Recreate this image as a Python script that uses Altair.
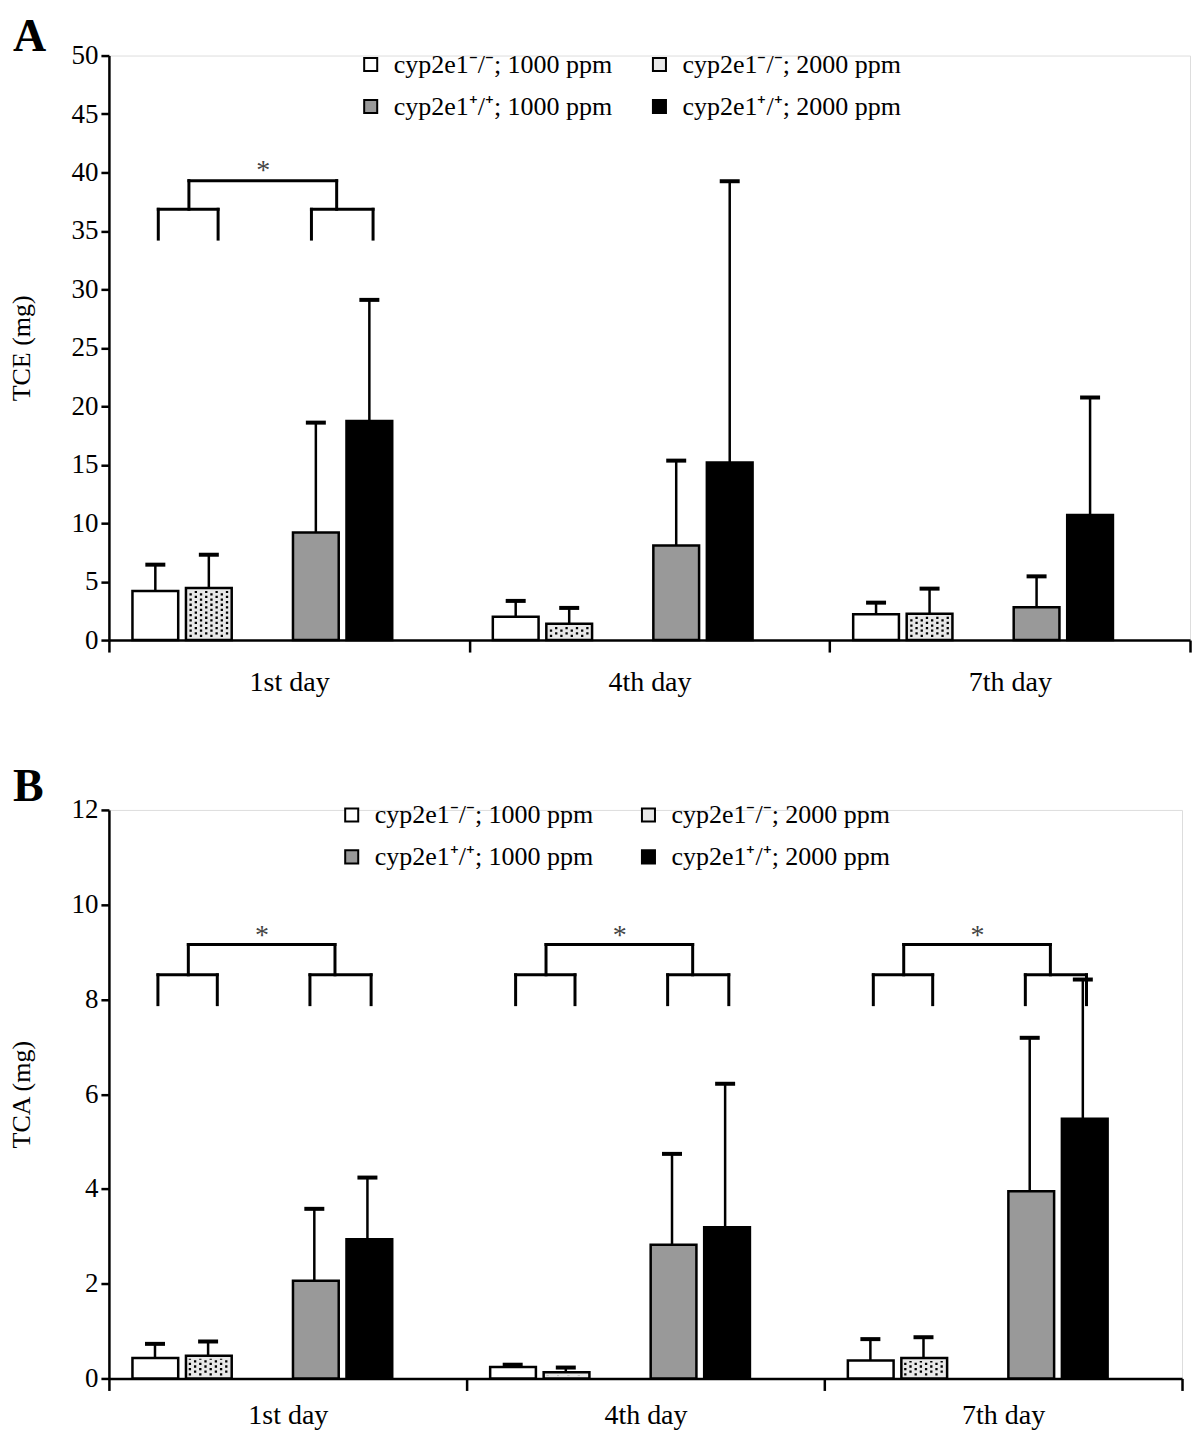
import altair as alt
import pandas as pd

FONT = "Liberation Serif"

# ---------------- data ----------------
days = ["1st day", "4th day", "7th day"]
series = [
    "cyp2e1\u207b/\u207b; 1000 ppm",
    "cyp2e1\u207b/\u207b; 2000 ppm",
    "cyp2e1\u207a/\u207a; 1000 ppm",
    "cyp2e1\u207a/\u207a; 2000 ppm",
]

# Panel A: TCE (mg), mean and SD per day
tce_ko1000 = [4.2, 2.0, 2.2]
tce_ko2000 = [4.45, 1.4, 2.25]
tce_wt1000 = [9.2, 8.1, 2.8]
tce_wt2000 = [18.75, 15.2, 10.7]
tce_ko1000_sd = [2.25, 1.35, 1.0]
tce_ko2000_sd = [2.85, 1.35, 2.15]
tce_wt1000_sd = [9.4, 7.25, 2.65]
tce_wt2000_sd = [10.35, 24.05, 10.05]

# Panel B: TCA (mg), mean and SD per day
tca_ko1000 = [0.43, 0.24, 0.38]
tca_ko2000 = [0.48, 0.13, 0.43]
tca_wt1000 = [2.06, 2.82, 3.95]
tca_wt2000 = [2.94, 3.19, 5.48]
tca_ko1000_sd = [0.30, 0.05, 0.45]
tca_ko2000_sd = [0.30, 0.10, 0.44]
tca_wt1000_sd = [1.52, 1.92, 3.24]
tca_wt2000_sd = [1.30, 3.03, 2.94]

# significance brackets: which days, and levels (bottom, sub top, top, asterisk)
tce_sig_days = ["1st day"]
tce_sig_levels = [34.3, 36.85, 39.3, 40.4]
tca_sig_days = ["1st day", "4th day", "7th day"]
tca_sig_levels = [7.89, 8.52, 9.16, 9.40]

# ---------------- layout / style ----------------
slot_domain = [series[0], series[1], "gap_a", series[2], series[3], "gap_b"]
fill_of = {series[0]: "white", series[1]: "#e8e8e8",
           series[2]: "#999999", series[3]: "black"}
legend_order = [series[0], series[2], series[1], series[3]]  # column-major fill -> row-major look
PAD_IN, PAD_OUT = 0.145, 0.44
STEP = 1.0 / (len(slot_domain) - PAD_IN + 2 * PAD_OUT)
BAND = STEP * (1 - PAD_IN)


def slot_center(s):
    k = slot_domain.index(s)
    return PAD_OUT * STEP + k * STEP + BAND / 2


# bracket x fractions inside a day band
BR_L1, BR_L2, BR_R1, BR_R2 = 0.137, 0.303, 0.562, 0.733
BR_T1, BR_T2, BR_AST = 0.222, 0.632, 0.428


def build_panel(means, sds, ytitle, ymax, ystep, width, height, letter,
                sig_days, sig_levels, legend_x, legend_y, col_pad, xlab_pad,
                title_offset):
    upx = 3.0 / width          # x data units per pixel
    ypx = ymax / height        # y data units per pixel
    rows = []
    for si, s in enumerate(series):
        for di, d in enumerate(days):
            m = means[si][di]
            sd = sds[si][di]
            xc = di + slot_center(s)
            rows.append(dict(day=d, series=s, mean=m, top=m + sd, xc=xc,
                             xl=xc - 10 * upx, xr=xc + 10 * upx))
    df = pd.DataFrame(rows)

    # dot texture for the dotted series
    dots = []
    for di, d in enumerate(days):
        s = series[1]
        m = means[1][di]
        xc = di + slot_center(s)
        y0 = 3.0 * ypx
        y1 = m - 3.0 * ypx
        if y1 <= y0:
            y1 = y0 + 2.4 * ypx
        for k in range(8):
            dots.append(dict(x=xc + (k - 3.5) * 5.2 * upx, y0=y0, y1=y1,
                             parity=k % 2))
    ddf = pd.DataFrame(dots)

    # brackets
    bot, sub, top, ast = sig_levels
    segs, asts = [], []
    for d in sig_days:
        i = days.index(d)
        for (xa, ya, xb, yb) in [
            (BR_L1, bot, BR_L1, sub), (BR_L1, sub, BR_L2, sub), (BR_L2, sub, BR_L2, bot),
            (BR_R1, bot, BR_R1, sub), (BR_R1, sub, BR_R2, sub), (BR_R2, sub, BR_R2, bot),
            (BR_T1, sub, BR_T1, top), (BR_T1, top, BR_T2, top), (BR_T2, top, BR_T2, sub),
        ]:
            segs.append(dict(x=i + xa, y=ya, x2=i + xb, y2=yb))
        asts.append(dict(x=i + BR_AST, y=ast, label="*"))
    sdf = pd.DataFrame(segs)
    adf = pd.DataFrame(asts)

    yscale = alt.Scale(domain=[0, ymax], nice=False, zero=True)
    yaxis = alt.Axis(
        title=ytitle, values=list(range(0, ymax + 1, ystep)), grid=False,
        domainColor="black", domainWidth=2.5, tickColor="black", tickWidth=2.5,
        tickSize=8, labelFont=FONT, labelFontSize=27, labelColor="black",
        labelPadding=3, titleFont=FONT, titleFontSize=26, titleFontWeight="normal",
        titleColor="black", titlePadding=36,
    )
    xq_scale = alt.Scale(domain=[0, 3], nice=False, zero=False)

    def Y(field):
        return alt.Y(field, scale=yscale, axis=yaxis)

    def XQ(field):
        return alt.X(field, scale=xq_scale, axis=None)

    bars = alt.Chart(df).mark_bar(stroke="black", strokeWidth=2.5).encode(
        x=alt.X("day:N", sort=days,
                scale=alt.Scale(paddingInner=0, paddingOuter=0),
                axis=alt.Axis(title=None, labelAngle=0, tickBand="extent",
                              domainColor="black", domainWidth=2.5,
                              tickColor="black", tickWidth=2.5, tickSize=12,
                              labelFont=FONT, labelFontSize=28,
                              labelColor="black", labelPadding=xlab_pad)),
        xOffset=alt.XOffset("series:N",
                            scale=alt.Scale(domain=slot_domain,
                                            paddingInner=PAD_IN,
                                            paddingOuter=PAD_OUT)),
        y=Y("mean:Q"),
        fill=alt.Fill("series:N",
                      scale=alt.Scale(domain=legend_order,
                                      range=[fill_of[s] for s in legend_order]),
                      legend=alt.Legend(
                          title=None, orient="none", legendX=legend_x,
                          legendY=legend_y, columns=2, symbolType="square",
                          symbolSize=170, symbolStrokeColor="black",
                          symbolStrokeWidth=2, labelFont=FONT,
                          labelFontSize=26, labelColor="black",
                          labelOffset=10, labelLimit=500,
                          columnPadding=col_pad, rowPadding=16, padding=0)),
    )

    dots_even = alt.Chart(ddf).transform_filter("datum.parity == 0").mark_rule(
        color="black", strokeWidth=2.3, strokeDash=[2.3, 2.9], strokeCap="butt"
    ).encode(x=XQ("x:Q"), y=Y("y0:Q"), y2="y1:Q")
    dots_odd = alt.Chart(ddf).transform_filter("datum.parity == 1").mark_rule(
        color="black", strokeWidth=2.3, strokeDash=[2.3, 2.9], strokeDashOffset=2.6,
        strokeCap="butt"
    ).encode(x=XQ("x:Q"), y=Y("y0:Q"), y2="y1:Q")

    whisk = alt.Chart(df).mark_rule(color="black", strokeWidth=2.5).encode(
        x=XQ("xc:Q"), y=Y("mean:Q"), y2="top:Q")
    caps = alt.Chart(df).mark_rule(color="black", strokeWidth=4).encode(
        x=XQ("xl:Q"), x2="xr:Q", y=Y("top:Q"))

    brackets = alt.Chart(sdf).mark_rule(color="black", strokeWidth=3,
                                        strokeCap="square").encode(
        x=XQ("x:Q"), x2="x2:Q", y=Y("y:Q"), y2="y2:Q")
    stars = alt.Chart(adf).mark_text(font=FONT, fontSize=28, color="#444444",
                                     baseline="middle", dy=3).encode(
        x=XQ("x:Q"), y=Y("y:Q"), text="label:N")

    return alt.layer(bars, dots_even, dots_odd, whisk, caps, brackets, stars).resolve_scale(
        x="independent"
    ).properties(
        width=width, height=height,
        title=alt.TitleParams(text=letter, anchor="start", frame="group", dx=-96,
                              fontSize=46, fontWeight="bold", font=FONT,
                              color="black", offset=title_offset),
    )


panel_a = build_panel(
    [tce_ko1000, tce_ko2000, tce_wt1000, tce_wt2000],
    [tce_ko1000_sd, tce_ko2000_sd, tce_wt1000_sd, tce_wt2000_sd],
    "TCE (mg)", 50, 5, 1082, 585, "A", tce_sig_days, tce_sig_levels,
    249, -4, 34, 16, -19)

panel_b = build_panel(
    [tca_ko1000, tca_ko2000, tca_wt1000, tca_wt2000],
    [tca_ko1000_sd, tca_ko2000_sd, tca_wt1000_sd, tca_wt2000_sd],
    "TCA (mg)", 12, 2, 1074, 569, "B", tca_sig_days, tca_sig_levels,
    230, -8, 42, 11, -15)

chart = alt.vconcat(panel_a, panel_b, spacing=66).resolve_scale(
    fill="independent"
).resolve_legend(fill="independent").properties(
    padding={"left": 0, "right": 0, "top": 4, "bottom": 0}
).configure_view(stroke=None).configure(font=FONT)

chart.save("out.html", embed_options={"renderer": "svg", "actions": False})
